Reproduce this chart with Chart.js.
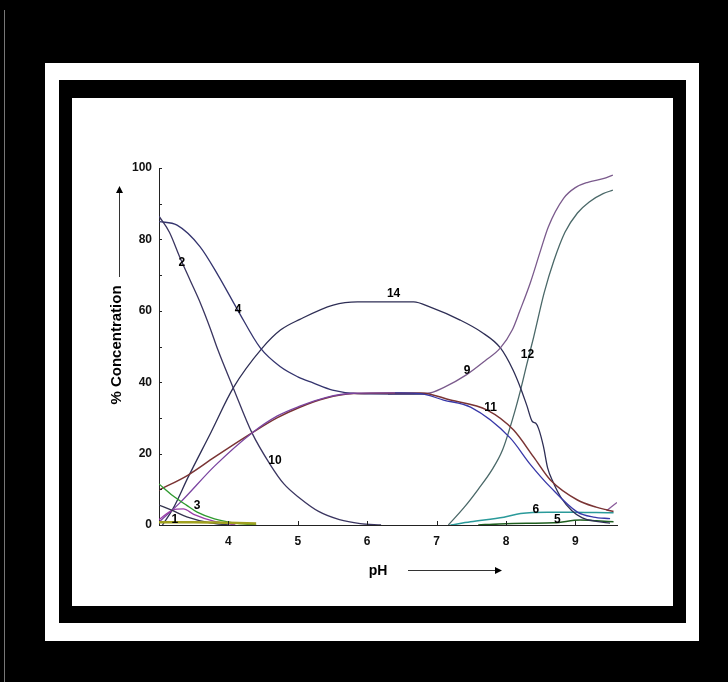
<!DOCTYPE html>
<html>
<head>
<meta charset="utf-8">
<script src="https://cdn.jsdelivr.net/npm/chart.js@4.4.1/dist/chart.umd.min.js"></script>
<style>
  html, body { margin: 0; padding: 0; background: #000; }
  canvas { display: block; }
</style>
</head>
<body>
<canvas id="especies" width="728" height="682"></canvas>
<script>
// pH / % concentration
const xTicks = [4, 5, 6, 7, 8, 9];
const yTicks = [0, 20, 40, 60, 80, 100];

const curve1 = [[3.0, 0.8], [3.5, 0.8], [4.0, 0.6], [4.4, 0.4]];
const curve2 = [[3.0, 86.5], [3.15, 82], [3.3, 75], [3.45, 68.5], [3.6, 62], [3.74, 55], [3.84, 49.5], [4.07, 38.4],
  [4.34, 25.8], [4.6, 17], [4.8, 11.5], [5.03, 7.5], [5.3, 3.8], [5.6, 1.5], [5.9, 0.4], [6.2, 0]];
const curve3 = [[3.0, 11.5], [3.2, 8.2], [3.4, 5.5], [3.55, 3.6], [3.8, 1.7], [4.07, 0.6], [4.4, 0]];
const curve4 = [[3.0, 85], [3.26, 84], [3.59, 78], [3.85, 70], [4.14, 60], [4.46, 49.6], [4.75, 44.3], [5.0, 41.5],
  [5.22, 39.8], [5.5, 37.8], [5.86, 36.8], [6.4, 36.7], [6.87, 36.7]];
const curve5 = [[3.0, 5.6], [3.2, 4.0], [3.4, 2.3], [3.74, 0.6], [4.0, 0]];
const curve7 = [[3.0, 1.5], [3.2, 4.2], [3.35, 4.5], [3.5, 3.0], [3.8, 1.0], [4.1, 0]];
const curve8 = [[3.0, 0.8], [3.3, 6.2], [3.8, 16.5], [4.34, 25.8], [4.7, 30.5], [5.03, 33.3], [5.4, 35.7], [5.8, 36.9], [6.4, 37]];
const curve9 = [[6.3, 36.7], [6.87, 36.9], [7.1, 38.5], [7.44, 42.2], [7.7, 46], [7.92, 49.6], [8.09, 54.6], [8.2, 60],
  [8.35, 67.8], [8.5, 77], [8.61, 83.5], [8.83, 91.5], [9.0, 94.5], [9.18, 96], [9.4, 97], [9.54, 98]];
const curve10 = [[6.4, 37], [6.77, 36.8], [7.1, 35], [7.49, 33], [8.06, 24.4], [8.35, 17], [8.64, 10.6], [9.03, 3.6], [9.26, 2.2], [9.5, 1.8]];
const curve11 = [[3.0, 9.8], [3.42, 14], [3.8, 19], [4.34, 25.8], [4.7, 30], [5.03, 33], [5.4, 35.5], [5.8, 36.8], [6.4, 37],
  [6.77, 37], [7.2, 35], [7.73, 32.2], [8.11, 26.6], [8.4, 19], [8.64, 12.6], [9.03, 7], [9.3, 5], [9.46, 4.2], [9.55, 3.8]];
const curve12 = [[7.17, 0], [7.4, 5], [7.6, 10], [7.8, 15.5], [7.95, 21], [8.1, 30], [8.21, 37.8], [8.3, 45], [8.4, 52.7],
  [8.55, 65], [8.69, 74], [8.85, 82], [9.03, 87.4], [9.2, 90.5], [9.4, 92.8], [9.54, 93.8]];
const curve14 = [[3.05, 0], [3.2, 4.5], [3.42, 13.4], [3.75, 26], [4.07, 38.4], [4.49, 49.6], [4.75, 54.6], [5.03, 57.6],
  [5.51, 61.6], [5.86, 62.5], [6.67, 62.5], [6.91, 61], [7.34, 57.4], [7.65, 54], [7.92, 49.6], [8.1, 43.5], [8.21, 38.4],
  [8.3, 33.5], [8.38, 29], [8.43, 28.5], [8.47, 27], [8.54, 22], [8.6, 16], [8.68, 12], [8.8, 7.5], [8.95, 4], [9.1, 2],
  [9.3, 1], [9.5, 0.5]];
const curve6 = [[7.2, 0], [7.49, 0.9], [7.97, 2.2], [8.21, 3.2], [8.6, 3.6], [8.97, 3.6], [9.3, 3.5], [9.55, 3.4]];
const curve15 = [[7.6, 0], [7.9, 0.3], [8.3, 0.5], [8.69, 0.6], [9.07, 1.4], [9.3, 1.2], [9.55, 0.9]];
const curve16 = [[9.45, 4], [9.6, 6.3]];

// curve numbers printed inside the plot (text, pH, %)
const curveLabels = [
  ['2', 3.33, 73.4], ['4', 4.14, 60.2], ['14', 6.38, 64.7], ['9', 7.44, 43.1], ['12', 8.31, 47.6],
  ['11', 7.78, 33], ['10', 4.67, 17.9], ['6', 8.43, 4.2], ['5', 8.74, 1.4], ['3', 3.55, 5.3], ['1', 3.23, 1.4]
];

function serie(data, color, width) {
  return {
    data: data,
    borderColor: color,
    borderWidth: width || 1.3,
    pointRadius: 0,
    fill: false,
    cubicInterpolationMode: 'monotone'
  };
}

const molduras = {
  id: 'molduras',
  beforeDraw(chart) {
    const c = chart.ctx;
    c.save();
    c.fillStyle = '#000';
    c.fillRect(0, 0, 728, 682);
    c.fillStyle = '#777';
    c.fillRect(4, 10, 1, 672);
    c.fillStyle = '#fff';
    c.fillRect(45, 63, 654, 578);
    c.fillStyle = '#000';
    c.fillRect(59, 80, 627, 543);
    c.fillStyle = '#fff';
    c.fillRect(72, 98, 601, 508);
    c.restore();
  },
  afterDraw(chart) {
    const c = chart.ctx;
    const x = chart.scales.x, y = chart.scales.y;
    c.save();
    c.strokeStyle = '#222';
    c.lineWidth = 1;
    c.beginPath();
    for (let v = 10; v <= 100; v += 10) {
      const py = Math.round(y.getPixelForValue(v)) + 0.5;
      c.moveTo(x.left, py);
      c.lineTo(x.left + 3, py);
    }
    xTicks.forEach(v => {
      const px = Math.round(x.getPixelForValue(v)) + 0.5;
      c.moveTo(px, y.bottom);
      c.lineTo(px, y.bottom - 4);
    });
    c.stroke();

    c.fillStyle = '#000';
    c.font = 'bold 12px "Liberation Sans", Arial, sans-serif';
    c.textAlign = 'center';
    c.textBaseline = 'middle';
    curveLabels.forEach(l => {
      c.fillText(l[0], x.getPixelForValue(l[1]), y.getPixelForValue(l[2]));
    });

    // axis titles with arrows
    c.font = 'bold 14px "Liberation Sans", Arial, sans-serif';
    c.fillText('pH', 378, 571);
    c.strokeStyle = '#333';
    c.beginPath();
    c.moveTo(408, 570.5);
    c.lineTo(498, 570.5);
    c.moveTo(119.5, 277);
    c.lineTo(119.5, 190);
    c.stroke();
    c.beginPath();
    c.moveTo(502, 570.5);
    c.lineTo(495, 567);
    c.lineTo(495, 574);
    c.closePath();
    c.moveTo(119.5, 186);
    c.lineTo(116, 193);
    c.lineTo(123, 193);
    c.closePath();
    c.fill();

    c.font = 'bold 15px "Liberation Sans", Arial, sans-serif';
    c.translate(117, 345);
    c.rotate(-Math.PI / 2);
    c.fillText('% Concentration', 0, 0);
    c.restore();
  }
};

const tickFont = { family: '"Liberation Sans", Arial, sans-serif', size: 12, weight: 'bold' };

new Chart(document.getElementById('especies'), {
  type: 'line',
  data: {
    datasets: [
      serie(curve1, '#a0a020', 2.5),
      serie(curve3, '#2f9a2f', 1.4),
      serie(curve5, '#33334d'),
      serie(curve7, '#9a3fa8'),
      serie(curve8, '#7a44a0'),
      serie(curve10, '#3838a8'),
      serie(curve11, '#7a3434', 1.5),
      serie(curve2, '#3a3560'),
      serie(curve4, '#34346e'),
      serie(curve9, '#7a5a8c'),
      serie(curve14, '#2e2e55'),
      serie(curve12, '#4a6868'),
      serie(curve6, '#2a9a9a', 1.5),
      serie(curve15, '#1e5e1e', 1.5),
      serie(curve16, '#8a5a9a')
    ]
  },
  options: {
    responsive: false,
    animation: false,
    layout: { padding: { left: 0, top: 168, right: 111, bottom: 0 } },
    plugins: {
      legend: { display: false },
      tooltip: { enabled: false }
    },
    scales: {
      x: {
        type: 'linear',
        min: 3,
        max: 9.6,
        afterBuildTicks: s => { s.ticks = xTicks.map(v => ({ value: v })); },
        afterFit: s => { s.height = 157; },
        grid: { display: false, drawTicks: false },
        border: { display: true, color: '#222', width: 1 },
        ticks: { color: '#111', font: tickFont, padding: 9, maxRotation: 0 }
      },
      y: {
        min: 0,
        max: 100,
        afterBuildTicks: s => { s.ticks = yTicks.map(v => ({ value: v })); },
        afterFit: s => { s.width = 159; },
        grid: { display: false, drawTicks: false },
        border: { display: true, color: '#222', width: 1 },
        ticks: { color: '#111', font: tickFont, padding: 7 }
      }
    }
  },
  plugins: [molduras]
});
</script>
</body>
</html>
